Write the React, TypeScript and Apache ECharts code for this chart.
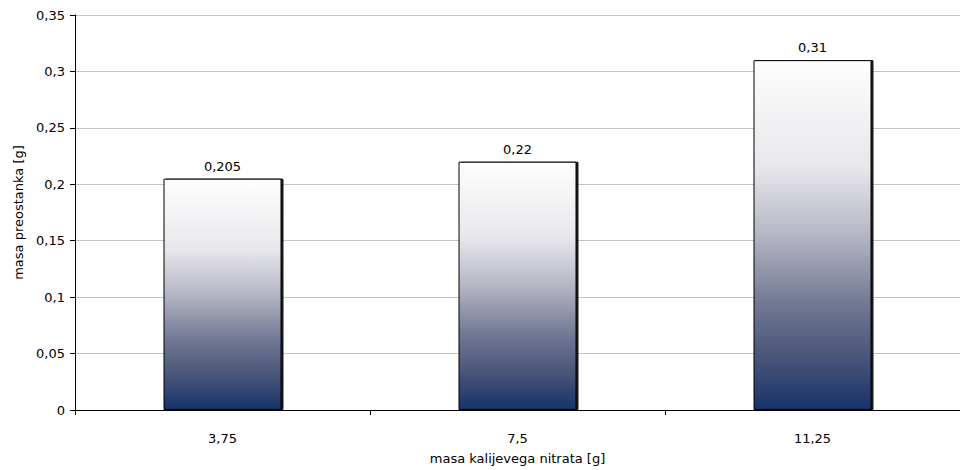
import React, { useEffect, useRef } from "react";
import * as echarts from "echarts";

const categories = ["3,75", "7,5", "11,25"];
const residueMass = [0.205, 0.22, 0.31];
const yMin = 0;
const yMax = 0.35;
const yStep = 0.05;

const fmt = (v: number) => String(Number(v.toFixed(3))).replace(".", ",");

export default function App() {
  const ref = useRef<HTMLDivElement>(null);

  useEffect(() => {
    if (!ref.current) return;
    const chart = echarts.init(ref.current, null, { renderer: "svg", width: 960, height: 470 });
    const font = "DejaVu Sans, Verdana, sans-serif";
    chart.setOption({
      animation: false,
      backgroundColor: "#ffffff",
      grid: { left: 75, right: 0, top: 15, bottom: 59 },
      xAxis: {
        type: "category",
        data: categories,
        name: "masa kalijevega nitrata [g]",
        nameLocation: "middle",
        nameGap: 42,
        nameTextStyle: { fontFamily: font, fontSize: 13, color: "#000" },
        axisLine: { lineStyle: { color: "#000", width: 1 } },
        axisTick: { show: true, alignWithLabel: false, length: 5, lineStyle: { color: "#000" } },
        axisLabel: { fontFamily: font, fontSize: 13, color: "#000", margin: 22 },
      },
      yAxis: {
        type: "value",
        min: yMin,
        max: yMax,
        interval: yStep,
        name: "masa preostanka [g]",
        nameLocation: "middle",
        nameGap: 50,
        nameTextStyle: { fontFamily: font, fontSize: 13, color: "#000" },
        axisLine: { show: true, lineStyle: { color: "#000", width: 1 } },
        axisTick: { show: true, length: 5, lineStyle: { color: "#000" } },
        axisLabel: { fontFamily: font, fontSize: 13, color: "#000", margin: 10, formatter: (v: number) => fmt(v) },
        splitLine: { show: true, lineStyle: { color: "#c4c4c4", width: 1 } },
      },
      series: [
        {
          type: "bar",
          data: residueMass,
          barWidth: "40%",
          itemStyle: {
            color: new echarts.graphic.LinearGradient(0, 0, 0, 1, [
              { offset: 0, color: "#fefefe" },
              { offset: 0.3, color: "#e8e8ec" },
              { offset: 0.5, color: "#b4b6c3" },
              { offset: 0.7, color: "#717793" },
              { offset: 0.85, color: "#4a5579" },
              { offset: 1, color: "#17326a" },
            ]),
            borderColor: "#000",
            borderWidth: 1,
            shadowColor: "rgba(0,0,0,0.9)",
            shadowOffsetX: 2,
            shadowOffsetY: 0,
            shadowBlur: 0,
          },
          label: {
            show: true,
            position: "top",
            distance: 6,
            fontFamily: font,
            fontSize: 13,
            color: "#000",
            formatter: (p: any) => fmt(p.value),
          },
        },
      ],
    });
    return () => chart.dispose();
  }, []);

  return (
    <div
      ref={ref}
      style={{ position: "fixed", left: 0, top: 0, width: 960, height: 470 }}
    />
  );
}
